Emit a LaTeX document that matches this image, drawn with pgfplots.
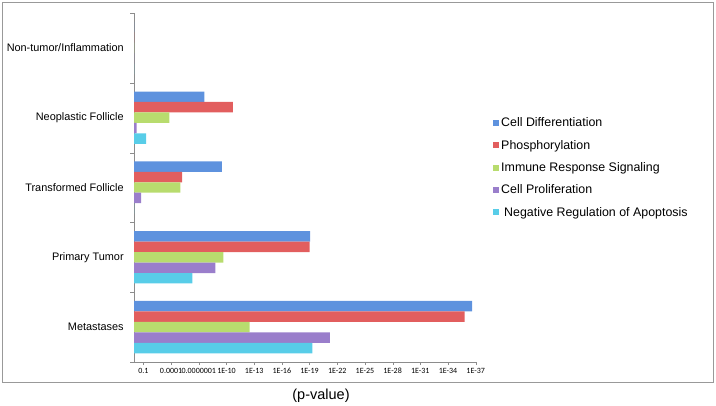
\documentclass[border=0pt]{standalone}
\usepackage{pgfplots}
\pgfplotsset{compat=1.18}
\usepackage{fontspec}
\setmainfont{Liberation Sans}
\newfontfamily\calibri{Carlito}
\definecolor{cblue}{HTML}{5E92DE}
\definecolor{cred}{HTML}{E25E5E}
\definecolor{cgreen}{HTML}{B8DC6E}
\definecolor{cpurp}{HTML}{9A7ECB}
\definecolor{ccyan}{HTML}{58CDE8}
\begin{document}
\begin{tikzpicture}[x=1pt,y=1pt]
\useasboundingbox (0,0) rectangle (716,405);
\draw[black!40, line width=0.8pt] (2.5,23) rectangle (713.5,402.5);
\node[font=\fontsize{14.5}{16}\selectfont] at (321,9) {(p-value)};
\begin{axis}[
  at={(134.2pt,43pt)}, anchor=south west, scale only axis,
  width=341.5pt, height=349pt,
  xbar, bar width=0.15,
  xmin=0, xmax=37, ymin=-0.5, ymax=4.5, y dir=reverse,
  axis x line*=bottom, axis y line*=left,
  axis line style={black!45},
  xtick={1,4,...,37},
  xticklabels={0.1,0.0001,0.0000001,1E-10,1E-13,1E-16,1E-19,1E-22,1E-25,1E-28,1E-31,1E-34,1E-37},
  ytick={0,...,4},
  yticklabels={Non-tumor/Inflammation, Neoplastic Follicle, Transformed Follicle, Primary Tumor, Metastases},
  minor ytick={-0.5,0.5,...,4.5},
  tick align=outside, major tick length=3pt, minor tick length=4pt,
  major y tick style={draw=none},
  minor y tick style={draw=black!45},
  major x tick style={draw=black!45},
  xticklabel style={font=\calibri\fontsize{8}{9}\selectfont, inner sep=1.5pt, yshift=-1pt, text height=6pt, text depth=0pt},
  yticklabel style={font=\fontsize{10.9}{12}\selectfont, xshift=-4pt},
  legend style={at={(1.042,0.712)}, anchor=north west, draw=none, fill=none,
    font=\fontsize{12.4}{14}\selectfont, row sep=7.9pt, legend cell align=left},
  legend image code/.code={\path[#1,draw=none] (0pt,-3pt) rectangle (6pt,3pt);},
]
\addplot[fill=cblue, draw=none, bar shift=-0.3]
  coordinates {(0,0) (7.6,1) (9.5,2) (19.05,3) (36.6,4)};
\addplot[fill=cred, draw=none, bar shift=-0.15]
  coordinates {(0,0) (10.7,1) (5.2,2) (19.0,3) (35.8,4)};
\addplot[fill=cgreen, draw=none, bar shift=0]
  coordinates {(0,0) (3.8,1) (5.0,2) (9.65,3) (12.5,4)};
\addplot[fill=cpurp, draw=none, bar shift=0.15]
  coordinates {(0,0) (0.25,1) (0.74,2) (8.8,3) (21.2,4)};
\addplot[fill=ccyan, draw=none, bar shift=0.3]
  coordinates {(0,0) (1.3,1) (0,2) (6.3,3) (19.3,4)};
\legend{Cell Differentiation, Phosphorylation, Immune Response Signaling, Cell Proliferation, \hspace{3pt}Negative Regulation of Apoptosis}
\end{axis}
\end{tikzpicture}
\end{document}
